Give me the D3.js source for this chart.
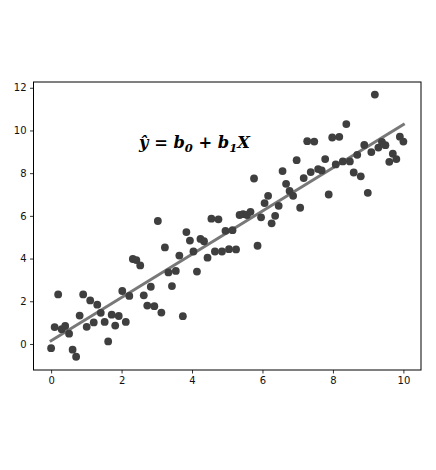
<!DOCTYPE html>
<html>
<head>
<meta charset="utf-8">
<script src="https://cdn.jsdelivr.net/npm/d3@7"></script>
<style>
  html, body { margin: 0; padding: 0; background: #fff; }
  svg { display: block; }
</style>
</head>
<body>
<svg id="chart" width="436" height="470"></svg>
<script>
// ---- data ----
const xValues = [0.00,0.10,0.20,0.30,0.40,0.51,0.61,0.71,0.81,0.91,
  1.01,1.11,1.21,1.31,1.41,1.52,1.62,1.72,1.82,1.92,
  2.02,2.12,2.22,2.32,2.42,2.53,2.63,2.73,2.83,2.93,
  3.03,3.13,3.23,3.33,3.43,3.54,3.64,3.74,3.84,3.94,
  4.04,4.14,4.24,4.34,4.44,4.55,4.65,4.75,4.85,4.95,
  5.05,5.15,5.25,5.35,5.45,5.56,5.66,5.76,5.86,5.96,
  6.06,6.16,6.26,6.36,6.46,6.57,6.67,6.77,6.87,6.97,
  7.07,7.17,7.27,7.37,7.47,7.58,7.68,7.78,7.88,7.98,
  8.08,8.18,8.28,8.38,8.48,8.59,8.69,8.79,8.89,8.99,
  9.09,9.19,9.29,9.39,9.49,9.60,9.70,9.80,9.90,10.00];
const yValues = [-0.20,0.79,2.32,0.69,0.84,0.48,-0.27,-0.60,1.33,2.32,
  0.80,2.04,1.01,1.84,1.46,1.03,0.12,1.37,0.86,1.31,
  2.48,1.03,2.25,3.98,3.93,3.68,2.28,1.80,2.68,1.77,
  5.76,1.47,4.52,3.35,2.71,3.42,4.14,1.30,5.24,4.84,
  4.33,3.39,4.92,4.81,4.04,5.87,4.33,5.84,4.33,5.30,
  4.44,5.33,4.43,6.04,6.08,6.04,6.19,7.75,4.60,5.93,
  6.60,6.94,5.65,6.00,6.47,8.10,7.50,7.17,6.94,8.61,
  6.38,7.77,9.50,8.05,9.48,8.19,8.13,8.66,7.00,9.67,
  8.41,9.70,8.55,10.30,8.55,8.03,8.86,7.85,9.32,7.08,
  8.99,11.68,9.20,9.47,9.31,8.53,8.91,8.66,9.71,9.48];
const lineX = [0, 10];
const lineY = [0.15, 10.28];
const xTicks = [0, 2, 4, 6, 8, 10];
const yTicks = [0, 2, 4, 6, 8, 10, 12];
const xDomain = [-0.5, 10.5];
const yDomain = [-1.22, 12.27];

// ---- layout ----
const svg = d3.select("#chart");
const m = { left: 33.5, top: 82 };
const x = d3.scaleLinear().domain(xDomain).range([m.left, 421]);
const y = d3.scaleLinear().domain(yDomain).range([370, m.top]);

// regression line
svg.append("line")
  .attr("x1", x(lineX[0])).attr("y1", y(lineY[0]))
  .attr("x2", x(lineX[1])).attr("y2", y(lineY[1]))
  .attr("stroke", "#787878").attr("stroke-width", 3)
  .attr("stroke-linecap", "square");

// points
svg.append("g").selectAll("circle")
  .data(xValues.map((v, i) => [v, yValues[i]]))
  .join("circle")
  .attr("cx", d => x(d[0])).attr("cy", d => y(d[1]))
  .attr("r", 3.9).attr("fill", "#3f3f3f");

// axes
const fontFam = "'DejaVu Sans', sans-serif";
const xAxis = svg.append("g").attr("transform", "translate(0,370)")
  .call(d3.axisBottom(x).tickValues(xTicks).tickSize(3.5).tickPadding(3.5).tickFormat(d3.format("d")));
const yAxis = svg.append("g").attr("transform", `translate(${m.left},0)`)
  .call(d3.axisLeft(y).tickValues(yTicks).tickSize(3.5).tickPadding(3.5).tickFormat(d3.format("d")));
[xAxis, yAxis].forEach(a => {
  a.select(".domain").remove();
  a.selectAll("line").attr("stroke", "#000").attr("stroke-width", 0.8);
  a.selectAll("text").attr("font-family", fontFam).attr("font-size", 10).attr("fill", "#111");
});

// frame
svg.append("rect")
  .attr("x", m.left).attr("y", m.top)
  .attr("width", 421 - m.left).attr("height", 370 - m.top)
  .attr("fill", "none").attr("stroke", "#000").attr("stroke-width", 1);

// formula
const t = svg.append("text")
  .attr("x", 139).attr("y", 147.5)
  .attr("font-family", "'DejaVu Serif', serif")
  .attr("font-weight", "bold").attr("font-style", "italic")
  .attr("font-size", 16.3).attr("fill", "#000");
t.append("tspan").text("\u0177 = b");
t.append("tspan").attr("font-size", 11.5).attr("dy", 4).text("0");
t.append("tspan").attr("dy", -4).text(" + b");
t.append("tspan").attr("font-size", 11.5).attr("dy", 4).text("1");
t.append("tspan").attr("dy", -4).text("X");
</script>
</body>
</html>
